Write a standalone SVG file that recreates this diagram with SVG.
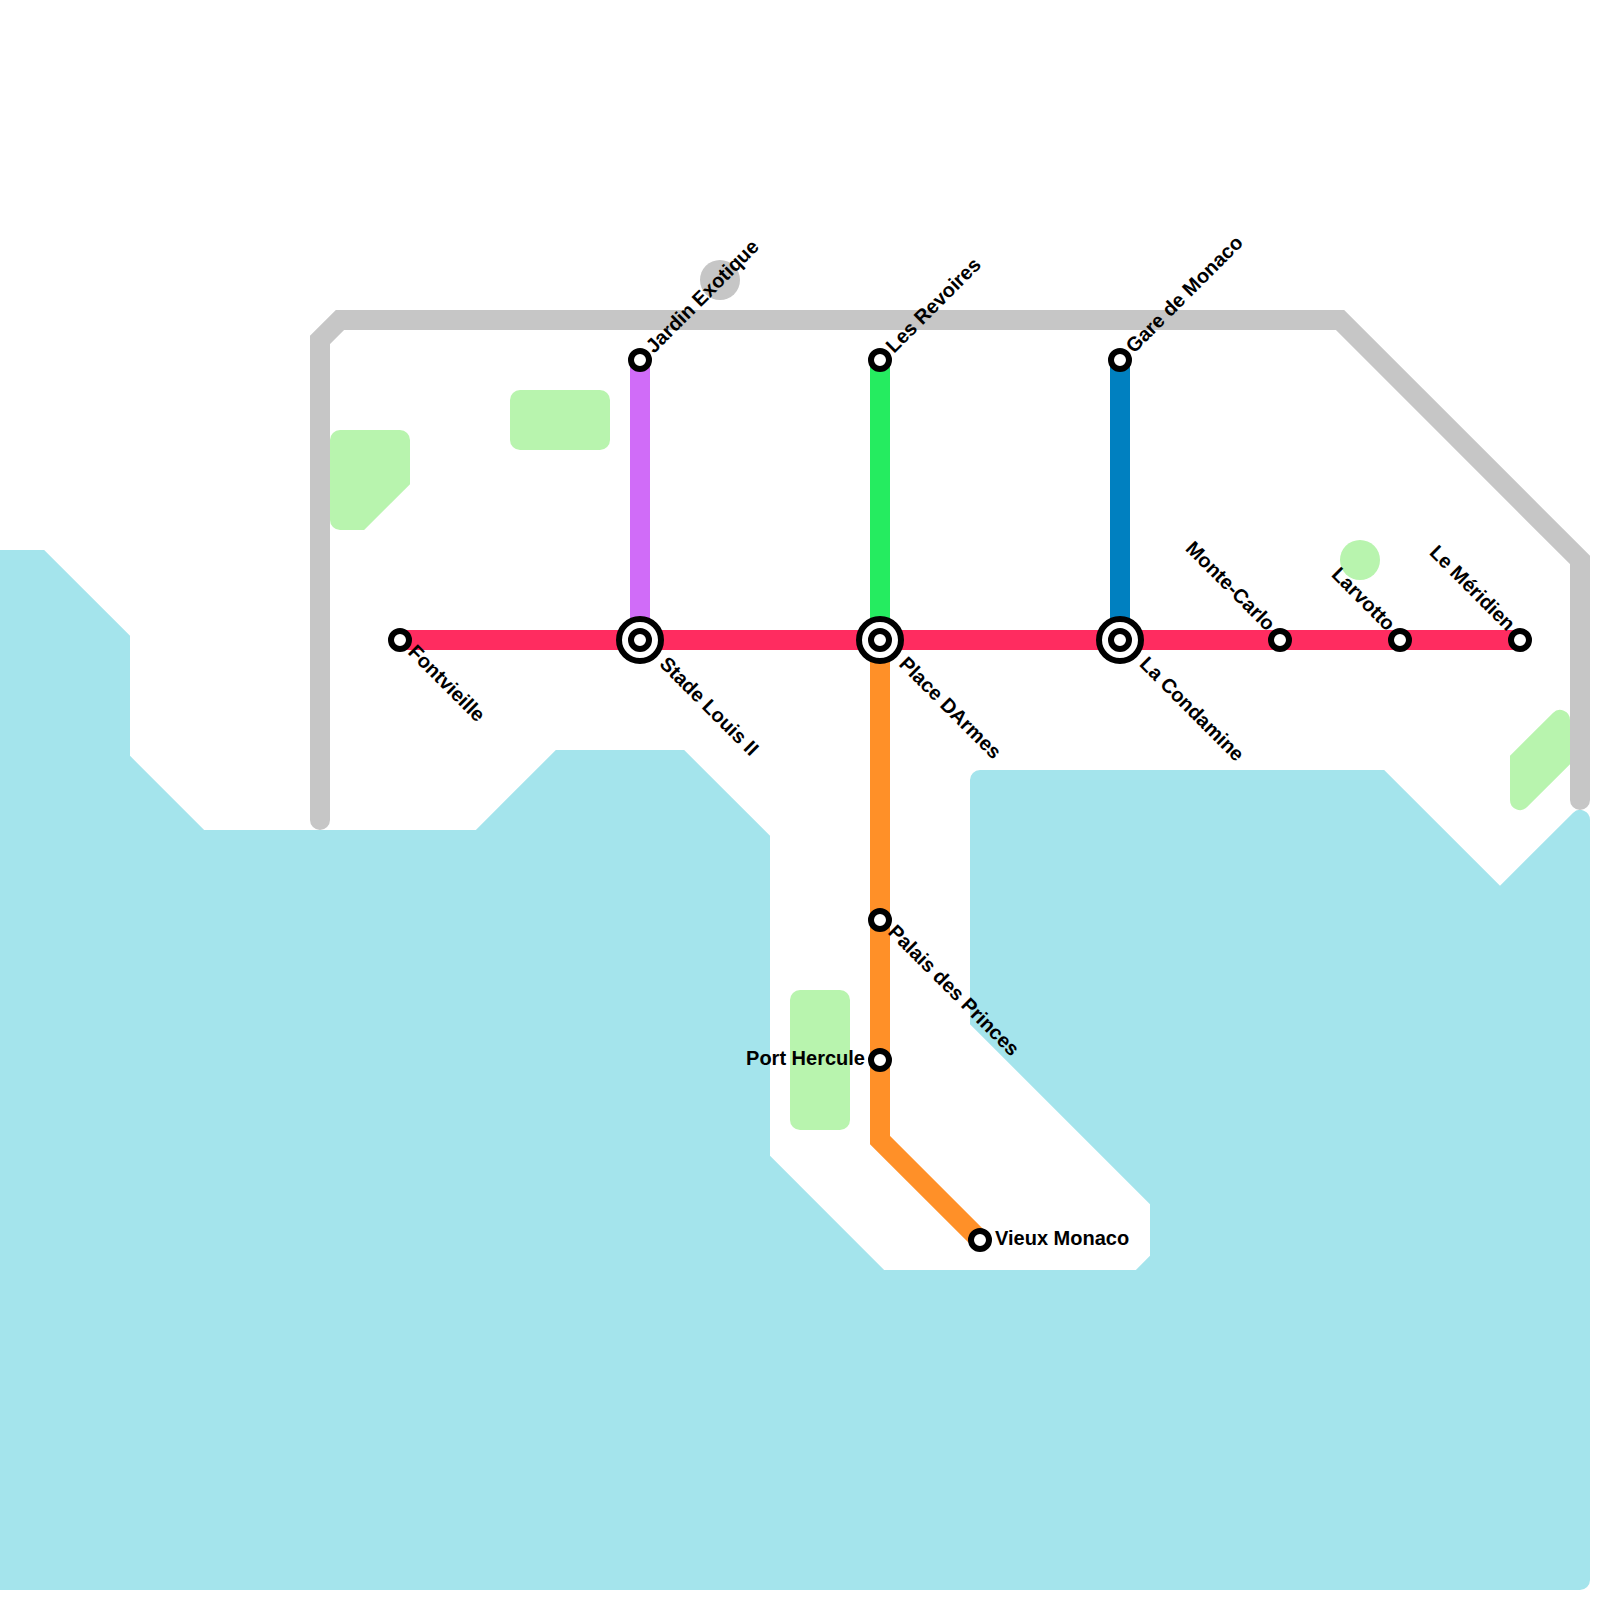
<svg xmlns="http://www.w3.org/2000/svg" width="1600" height="1600" viewBox="0 0 1600 1600">
<style>
.water{fill:#a4e4ec}
.park{fill:#b8f4ae}
.line{fill:none;stroke-width:20;stroke-linejoin:miter}
.road{fill:none;stroke:#c6c6c6;stroke-width:20;stroke-linejoin:miter;stroke-linecap:round}
.s{fill:#fff;stroke:#000;stroke-width:6}
text{font-family:"Liberation Sans",Arial,sans-serif;font-weight:700;font-size:20px;fill:#000}
</style>
<rect width="1600" height="1600" fill="#fff"/>
<g id="water">
<path class="water" d="M0 550H44.14L130 635.86V755.86L204.14 830H475.86L555.86 750H684.14L770 835.86V1155.86L884.14 1270H1135.86L1150 1255.86V1204.14L970 1024.14V780A10 10 0 0 1 980 770H1384.14L1500 885.86L1572.93 812.93A10 10 0 0 1 1590 820V1580A10 10 0 0 1 1580 1590H0Z"/>
</g>
<g id="parks">
<path class="park" d="M340 430H400A10 10 0 0 1 410 440V484.14L364.14 530H340A10 10 0 0 1 330 520V440A10 10 0 0 1 340 430Z"/>
<rect class="park" x="510" y="390" width="100" height="60" rx="10"/>
<rect class="park" x="790" y="990" width="60" height="140" rx="10"/>
<path class="park" d="M1510 755.86L1552.93 712.93A10 10 0 0 1 1570 720V764.14L1527.07 807.07A10 10 0 0 1 1510 800Z"/>
<circle class="park" cx="1360" cy="560" r="20"/>
</g>
<g id="connectors">
<circle cx="720" cy="280" r="20" fill="#c6c6c6"/>
<path class="road" d="M320 820V340L340 320H1340L1580 560V800"/>
<path class="line" stroke="#d06cf8" d="M640 360V640"/>
<path class="line" stroke="#25ec60" d="M880 360V640"/>
<path class="line" stroke="#0080c0" d="M1120 360V640"/>
<path class="line" stroke="#ff9028" d="M880 640V1140L980 1240"/>
<path class="line" stroke="#ff2c60" d="M400 640H1520"/>
</g>
<g id="fontvieille"><circle class="s" cx="400" cy="640" r="9"/><text transform="translate(407 653) rotate(45)">Fontvieille</text></g>
<g id="stade-louis-ii"><circle class="s" cx="640" cy="640" r="21"/><circle class="s" cx="640" cy="640" r="9"/><text transform="translate(658.5 665) rotate(45)">Stade Louis II</text></g>
<g id="place-darmes"><circle class="s" cx="880" cy="640" r="21"/><circle class="s" cx="880" cy="640" r="9"/><text transform="translate(898 665) rotate(45)">Place DArmes</text></g>
<g id="la-condamine"><circle class="s" cx="1120" cy="640" r="21"/><circle class="s" cx="1120" cy="640" r="9"/><text transform="translate(1138.5 665) rotate(45)">La Condamine</text></g>
<g id="monte-carlo"><circle class="s" cx="1280" cy="640" r="9"/><text transform="translate(1267 632) rotate(45)" text-anchor="end">Monte-Carlo</text></g>
<g id="larvotto"><circle class="s" cx="1400" cy="640" r="9"/><text transform="translate(1387 632) rotate(45)" text-anchor="end">Larvotto</text></g>
<g id="le-meridien"><circle class="s" cx="1520" cy="640" r="9"/><text transform="translate(1507 632) rotate(45)" text-anchor="end">Le Méridien</text></g>
<g id="jardin-exotique"><circle class="s" cx="640" cy="360" r="9"/><text transform="translate(654 354) rotate(-45)">Jardin Exotique</text></g>
<g id="les-revoires"><circle class="s" cx="880" cy="360" r="9"/><text transform="translate(894 354) rotate(-45)">Les Revoires</text></g>
<g id="gare-de-monaco"><circle class="s" cx="1120" cy="360" r="9"/><text transform="translate(1134 354) rotate(-45)">Gare de Monaco</text></g>
<g id="palais-des-princes"><circle class="s" cx="880" cy="920" r="9"/><text transform="translate(887 933) rotate(45)">Palais des Princes</text></g>
<g id="port-hercule"><circle class="s" cx="880" cy="1060" r="9"/><text x="865" y="1065" text-anchor="end">Port Hercule</text></g>
<g id="vieux-monaco"><circle class="s" cx="980" cy="1240" r="9"/><text x="995" y="1245">Vieux Monaco</text></g>
</svg>
